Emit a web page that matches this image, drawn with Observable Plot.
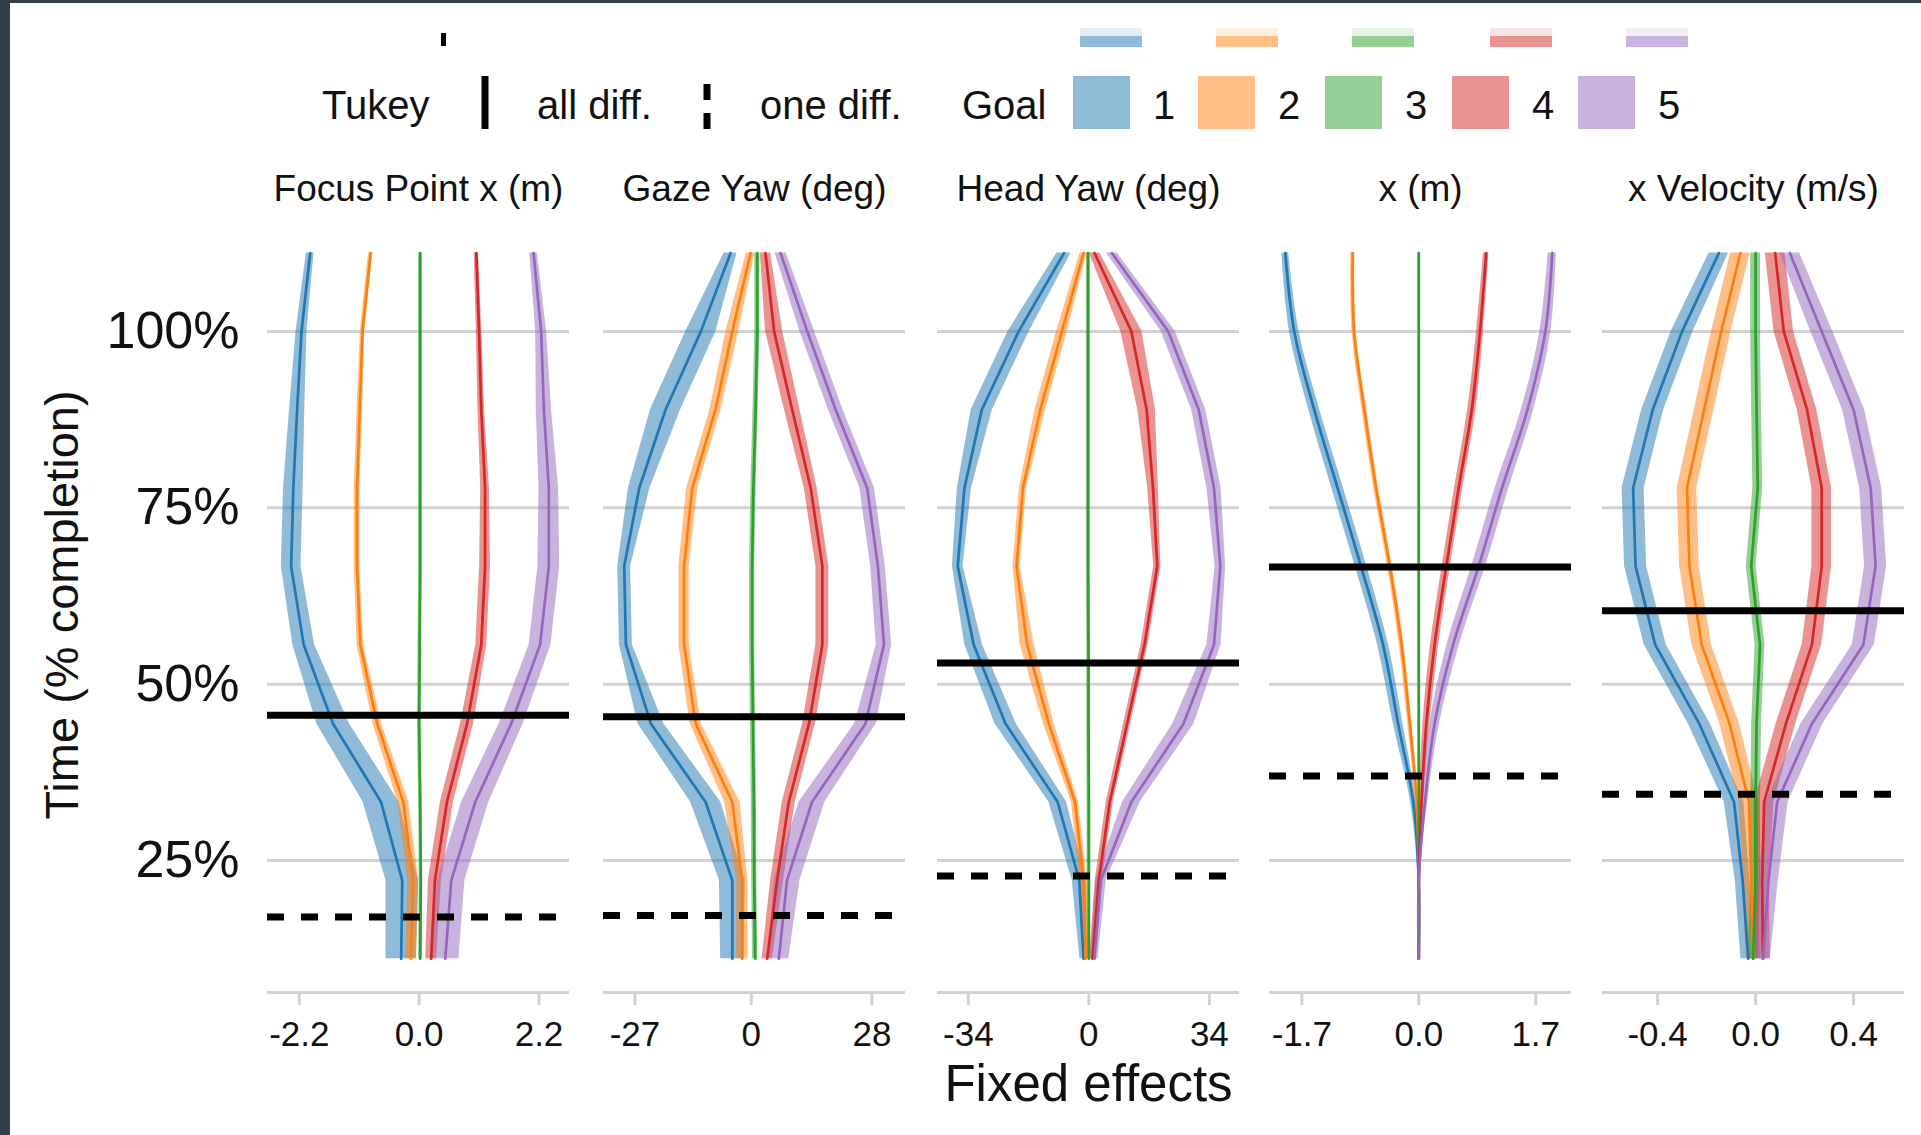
<!DOCTYPE html>
<html><head><meta charset="utf-8">
<script src="https://cdn.jsdelivr.net/npm/d3@7"></script>
<script src="https://cdn.jsdelivr.net/npm/@observablehq/plot@0.6"></script>
<style>
html,body{margin:0;padding:0;background:#fff;width:1921px;height:1135px;overflow:hidden;}
#page{position:absolute;left:0;top:0;width:1921px;height:1135px;background:#fff;}
.abs{position:absolute;}
</style></head><body>
<div id="page"></div>
<script>
// ---------- data ----------
const times = [11.1, 22.2, 33.3, 44.4, 55.6, 66.7, 77.8, 88.9, 100, 111.1];
const goals = ["1", "2", "3", "4", "5"];
const goalColors = ["#1f77b4", "#ff7f0e", "#2ca02c", "#d62728", "#9467bd"];
const panelTitles = ["Focus Point x (m)", "Gaze Yaw (deg)", "Head Yaw (deg)", "x (m)", "x Velocity (m/s)"];
const yDomain = [6.3, 116];
const yTicks = [25, 50, 75, 100];
const yTickLabels = ["25%", "50%", "75%", "100%"];
const xTicks = [[-2.2, 0, 2.2], [-27, 0, 28], [-34, 0, 34], [-1.7, 0, 1.7], [-0.4, 0, 0.4]];
const xTickLabels = [["-2.2", "0.0", "2.2"], ["-27", "0", "28"], ["-34", "0", "34"], ["-1.7", "0.0", "1.7"], ["-0.4", "0.0", "0.4"]];
const xDomains = [[-2.784, 2.76], [-34.3, 35.8], [-42.7, 42.5], [-2.17, 2.22], [-0.625, 0.608]];
const tukeyAllDiff = [45.6, 45.4, 53.0, 66.6, 60.4];
const tukeyOneDiff = [17.0, 17.2, 22.8, 37.0, 34.4];

// fixed effect estimates (rows = goals 1..5, columns = times)
const focusMean = [
  [-0.33, -0.31, -0.70, -1.58, -2.12, -2.35, -2.31, -2.24, -2.16, -2.00],
  [-0.15, -0.11, -0.29, -0.77, -1.08, -1.14, -1.14, -1.09, -1.04, -0.89],
  [0.02, 0.03, 0.02, 0.00, 0.01, 0.02, 0.02, 0.02, 0.02, 0.02],
  [0.22, 0.29, 0.51, 0.88, 1.14, 1.21, 1.21, 1.14, 1.10, 1.05],
  [0.48, 0.59, 1.03, 1.69, 2.22, 2.38, 2.38, 2.29, 2.24, 2.10]
];
const focusHalf = [
  [0.28, 0.30, 0.33, 0.30, 0.20, 0.18, 0.18, 0.14, 0.10, 0.07],
  [0.10, 0.10, 0.10, 0.08, 0.06, 0.05, 0.05, 0.05, 0.04, 0.04],
  [0.03, 0.03, 0.03, 0.03, 0.03, 0.03, 0.03, 0.03, 0.03, 0.03],
  [0.10, 0.12, 0.12, 0.12, 0.10, 0.10, 0.08, 0.06, 0.05, 0.04],
  [0.25, 0.25, 0.25, 0.22, 0.20, 0.20, 0.18, 0.14, 0.10, 0.07]
];
const gazeMean = [
  [-4.4, -4.4, -10.6, -23.3, -29.1, -29.5, -26.0, -19.9, -11.7, -4.8],
  [-2.1, -2.1, -4.4, -12.9, -15.6, -15.6, -13.7, -8.3, -4.4, -0.15],
  [0.9, 0.7, 0.6, 0.4, 0.2, 0.2, 0.5, 1.0, 1.4, 1.4],
  [3.7, 6.0, 8.7, 13.4, 16.5, 16.5, 13.8, 9.5, 5.3, 3.3],
  [6.4, 8.3, 14.1, 26.5, 30.8, 29.4, 26.9, 19.6, 13.0, 6.8]
];
const gazeHalf = [
  [2.7, 3.0, 3.5, 3.0, 1.5, 1.5, 2.5, 3.5, 3.5, 1.5],
  [1.3, 1.3, 1.8, 1.3, 1.2, 1.2, 1.3, 1.3, 1.5, 1.0],
  [0.6, 0.6, 0.6, 0.6, 0.6, 0.6, 0.6, 0.6, 0.6, 0.6],
  [1.2, 1.5, 1.5, 1.5, 1.5, 1.5, 1.5, 1.8, 2.0, 1.2],
  [2.3, 3.0, 3.0, 2.5, 1.8, 1.7, 1.7, 1.7, 1.7, 1.3]
];
const headMean = [
  [-1.5, -2.7, -8.8, -23.5, -32.5, -37.0, -35.1, -30.2, -19.8, -7.0],
  [-0.9, -1.5, -3.9, -11.3, -17.4, -20.4, -18.6, -13.7, -7.6, -1.5],
  [0.0, 0.0, 0.0, -0.1, -0.1, -0.2, -0.2, -0.2, -0.2, -0.2],
  [1.0, 2.8, 5.9, 10.8, 15.7, 19.3, 18.1, 16.3, 12.0, 1.6],
  [1.6, 3.4, 12.0, 26.7, 35.3, 37.1, 35.3, 31.0, 22.4, 6.5]
];
const headHalf = [
  [1.0, 2.0, 2.5, 3.0, 2.5, 1.5, 2.0, 3.0, 3.0, 2.0],
  [0.8, 1.0, 1.0, 1.5, 2.0, 1.0, 1.0, 1.5, 1.5, 1.0],
  [0.5, 0.5, 0.5, 0.5, 0.5, 0.5, 0.5, 0.5, 0.5, 0.5],
  [0.8, 1.0, 1.0, 1.0, 1.0, 1.0, 1.5, 2.5, 3.0, 1.5],
  [1.0, 1.5, 2.5, 3.0, 2.0, 1.5, 2.0, 2.0, 2.0, 1.5]
];
const posMean = [
  [0, 0, -0.08, -0.30, -0.52, -0.84, -1.18, -1.52, -1.81, -1.94],
  [0, 0, -0.03, -0.13, -0.25, -0.42, -0.62, -0.79, -0.94, -0.96],
  [0, 0, 0, 0, 0, 0, 0, 0, 0, 0],
  [0, 0, 0.04, 0.11, 0.23, 0.40, 0.58, 0.77, 0.89, 0.98],
  [0, 0, 0.09, 0.23, 0.50, 0.87, 1.21, 1.58, 1.84, 1.94]
];
const posHalf = [
  [0.01, 0.01, 0.04, 0.07, 0.08, 0.085, 0.085, 0.08, 0.07, 0.05],
  [0.01, 0.01, 0.02, 0.03, 0.035, 0.035, 0.035, 0.035, 0.03, 0.03],
  [0.01, 0.01, 0.01, 0.01, 0.01, 0.01, 0.01, 0.01, 0.01, 0.01],
  [0.01, 0.01, 0.03, 0.05, 0.06, 0.06, 0.06, 0.06, 0.05, 0.04],
  [0.01, 0.01, 0.04, 0.07, 0.09, 0.10, 0.10, 0.09, 0.08, 0.06]
];
const velMean = [
  [-0.03, -0.053, -0.088, -0.23, -0.41, -0.49, -0.50, -0.42, -0.30, -0.15],
  [-0.01, -0.018, -0.027, -0.106, -0.22, -0.27, -0.28, -0.21, -0.14, -0.062],
  [-0.01, 0.0, 0.0, 0.004, 0.018, -0.018, 0.009, 0.004, 0.0, 0.0],
  [0.03, 0.027, 0.035, 0.124, 0.23, 0.27, 0.27, 0.21, 0.115, 0.08],
  [0.03, 0.053, 0.088, 0.23, 0.44, 0.49, 0.47, 0.40, 0.27, 0.14]
];
const velHalf = [
  [0.03, 0.03, 0.04, 0.045, 0.045, 0.045, 0.045, 0.045, 0.045, 0.04],
  [0.03, 0.03, 0.04, 0.04, 0.04, 0.04, 0.04, 0.04, 0.04, 0.04],
  [0.02, 0.02, 0.02, 0.02, 0.02, 0.02, 0.02, 0.02, 0.02, 0.02],
  [0.03, 0.03, 0.04, 0.04, 0.04, 0.04, 0.04, 0.04, 0.04, 0.04],
  [0.03, 0.04, 0.045, 0.045, 0.045, 0.045, 0.045, 0.045, 0.045, 0.04]
];
const panelMeans = [focusMean, gazeMean, headMean, posMean, velMean];
const panelHalves = [focusHalf, gazeHalf, headHalf, posHalf, velHalf];

// ---------- layout ----------
const FONT = "'Liberation Sans', Arial, sans-serif";
const page = document.getElementById("page");
const panelLeft = [267, 603, 937, 1269, 1602];
const panelW = 302;
const svgTop = 150;
const mTop = 68, mBottom = 125, frameH = 774;
const gridColor = "#d2d2d2";
const panelCurve = ["linear", "linear", "linear", "catmull-rom", "linear"];

panelTitles.forEach((title, p) => {
  const rows = [];
  goals.forEach((g, gi) => {
    times.forEach((t, k) => {
      const m = panelMeans[p][gi][k], h = panelHalves[p][gi][k];
      rows.push({goal: g, t, m, lo: m - h, hi: m + h});
    });
  });
  const ml = p === 0 ? 267 : 20;
  const mr = 20;
  const labelMap = new Map(xTicks[p].map((v, i) => [v, xTickLabels[p][i]]));
  const yLabelMap = new Map(yTicks.map((v, i) => [v, yTickLabels[i]]));
  const curve = panelCurve[p];
  const marks = [
    Plot.ruleY(yTicks, {stroke: gridColor, strokeWidth: 3}),
    Plot.ruleY([yDomain[0]], {stroke: gridColor, strokeWidth: 3.2}),
    Plot.areaX(rows, {y: "t", x1: "lo", x2: "hi", fill: "goal", fillOpacity: 0.5, z: "goal", curve}),
    Plot.lineX(rows, {x: "m", y: "t", stroke: "goal", strokeWidth: 2.7, z: "goal", curve}),
    Plot.ruleY([tukeyAllDiff[p]], {stroke: "black", strokeWidth: 7}),
    Plot.ruleY([tukeyOneDiff[p]], {stroke: "black", strokeWidth: 7, strokeDasharray: "17,17"}),
    Plot.axisX({ticks: xTicks[p], tickFormat: d => labelMap.get(d), tickSize: 13, tickPadding: 16,
      stroke: gridColor, strokeWidth: 3, fill: "#111", fontSize: 35, label: null}),
    Plot.text([title], {frameAnchor: "top", dy: -18, lineAnchor: "bottom", fontSize: 37, fill: "#111"})
  ];
  if (p === 0) {
    marks.push(Plot.axisY({ticks: yTicks, tickFormat: d => yLabelMap.get(d), tickSize: 0, tickPadding: 28,
      fontSize: 52, fill: "#111", label: null}));
  }
  if (p === 2) {
    marks.push(Plot.text(["Fixed effects"], {frameAnchor: "bottom", dy: 108, lineAnchor: "bottom", fontSize: 51, fill: "#111"}));
  }
  const chart = Plot.plot({
    width: ml + panelW + mr,
    height: mTop + frameH + mBottom,
    marginLeft: ml, marginRight: mr, marginTop: mTop, marginBottom: mBottom,
    x: {domain: xDomains[p], axis: null},
    y: {domain: yDomain, axis: null},
    color: {domain: goals, range: goalColors},
    style: {fontFamily: FONT, background: "transparent", overflow: "visible"},
    marks
  });
  chart.classList.add("abs");
  chart.style.left = (panelLeft[p] - ml) + "px";
  chart.style.top = svgTop + "px";
  page.appendChild(chart);
});

// ---------- legend & titles overlay ----------
const ov = d3.select(page).append("svg").attr("class", "abs")
  .style("left", "0px").style("top", "0px").style("pointer-events", "none")
  .attr("width", 1921).attr("height", 1135)
  .style("font-family", FONT);

// faded, cut-off legend ghost at very top
const ghostX = [1080, 1216, 1352, 1490, 1626];
goalColors.forEach((c, i) => {
  ov.append("rect").attr("x", ghostX[i]).attr("y", 28).attr("width", 62).attr("height", 8).attr("fill", c).attr("fill-opacity", 0.12);
  ov.append("rect").attr("x", ghostX[i]).attr("y", 36).attr("width", 62).attr("height", 11).attr("fill", c).attr("fill-opacity", 0.5);
});
ov.append("rect").attr("x", 441).attr("y", 33).attr("width", 5).attr("height", 13).attr("fill", "black");

// main legend
const lgBase = 119;
ov.append("text").attr("x", 322).attr("y", lgBase).attr("font-size", 40).attr("fill", "#111").text("Tukey");
ov.append("line").attr("x1", 485).attr("x2", 485).attr("y1", 76).attr("y2", 129).attr("stroke", "black").attr("stroke-width", 7);
ov.append("text").attr("x", 537).attr("y", lgBase).attr("font-size", 40).attr("fill", "#111").text("all diff.");
ov.append("line").attr("x1", 707).attr("x2", 707).attr("y1", 84).attr("y2", 130).attr("stroke", "black").attr("stroke-width", 7).attr("stroke-dasharray", "16,13");
ov.append("text").attr("x", 760).attr("y", lgBase).attr("font-size", 40).attr("fill", "#111").text("one diff.");
ov.append("text").attr("x", 962).attr("y", lgBase).attr("font-size", 40).attr("fill", "#111").text("Goal");
const swX = [1073, 1198, 1325, 1452, 1578];
goals.forEach((g, i) => {
  ov.append("rect").attr("x", swX[i]).attr("y", 76).attr("width", 57).attr("height", 53).attr("fill", goalColors[i]).attr("fill-opacity", 0.5);
  ov.append("text").attr("x", swX[i] + 91).attr("y", lgBase).attr("text-anchor", "middle").attr("font-size", 40).attr("fill", "#111").text(g);
});

// y axis title
ov.append("text").attr("transform", "translate(78,605) rotate(-90)").attr("text-anchor", "middle")
  .attr("font-size", 47).attr("fill", "#111").text("Time (% completion)");

// dark frame edges
d3.select("body").append("div").attr("class", "abs").style("left", "0px").style("top", "0px").style("width", "10px").style("height", "1135px").style("background", "#333f48");
d3.select("body").append("div").attr("class", "abs").style("left", "0px").style("top", "0px").style("width", "1921px").style("height", "3px").style("background", "#333f48");
</script></body></html>
